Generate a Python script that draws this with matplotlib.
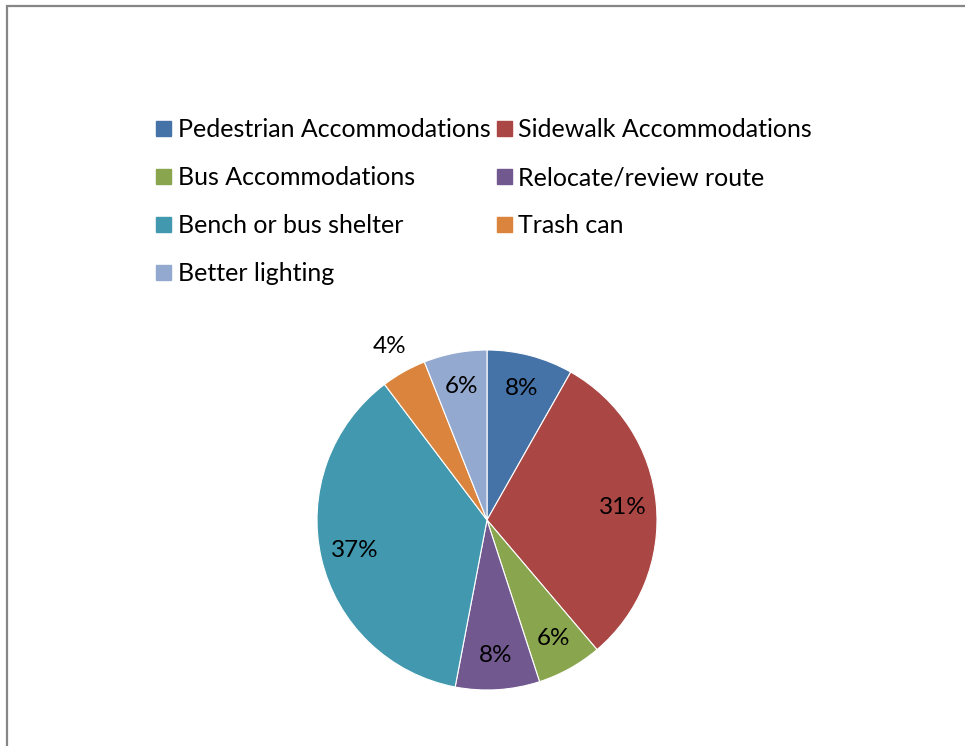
import matplotlib
matplotlib.use("Agg")
import matplotlib.pyplot as plt
from matplotlib.lines import Line2D
from matplotlib.patches import Rectangle

categories = ["Pedestrian Accommodations", "Sidewalk Accommodations", "Bus Accommodations",
              "Relocate/review route", "Bench or bus shelter", "Trash can", "Better lighting"]
values = [8.2, 30.6, 6.2, 8.0, 36.7, 4.3, 6.0]
colors = ["#4572A7", "#AA4643", "#89A54E", "#71588F", "#4198AF", "#DB843D", "#93A9CF"]

plt.rcParams['font.family'] = ['Lato', 'DejaVu Sans']

W, H = 965, 746
fig = plt.figure(figsize=(W / 100, H / 100), dpi=100)
fig.patch.set_facecolor('white')

# outer chart border (only top/left visible)
fig.add_artist(Rectangle((7 / W, -0.1), 1.2, 1.1 - 6 / H, transform=fig.transFigure,
                         fill=False, edgecolor='#868686', linewidth=1.6))

cx, cy, r = 487, 520, 170
half = r * 1.25
ax = fig.add_axes([(cx - half) / W, (H - cy - half) / H, 2 * half / W, 2 * half / H])
wedges, texts, autotexts = ax.pie(values, colors=colors, startangle=90, counterclock=False,
                                  autopct='%.0f%%', pctdistance=0.8,
                                  wedgeprops=dict(edgecolor='white', linewidth=0.8),
                                  textprops=dict(fontsize=17.5, color='black'))
# the small slice label sits outside
x, y = autotexts[5].get_position()
autotexts[5].set_position((x * 1.17 / 0.8, y * 1.17 / 0.8))
ax.set_aspect('equal')

order = [0, 2, 4, 6, 1, 3, 5]
handles = [Line2D([], [], marker='s', linestyle='none', markersize=10.8,
                  markerfacecolor=colors[i], markeredgecolor=colors[i]) for i in order]
labels = [categories[i] for i in order]
leg = fig.legend(handles, labels, ncol=2, loc='upper left',
                 bbox_to_anchor=(154 / W, 1 - 118 / H), frameon=False,
                 fontsize=18, handlelength=0.75, handletextpad=0.2,
                 columnspacing=0.15, labelspacing=1.0, borderaxespad=0, borderpad=0)

fig.savefig('out.png', dpi=100, facecolor='white')
